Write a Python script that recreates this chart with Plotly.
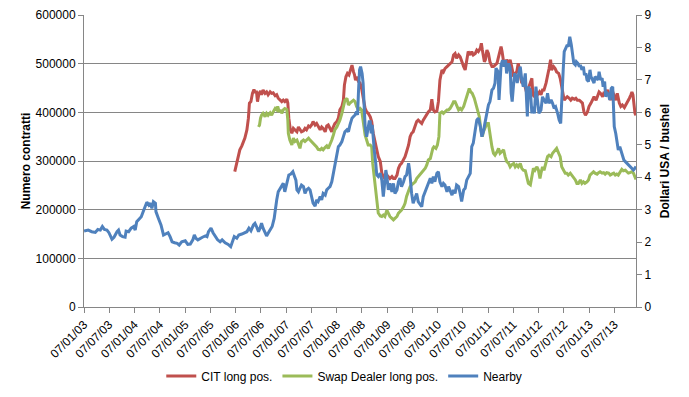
import datetime as dt
import plotly.graph_objects as go

# ---- data ----
# times are decimal years
nearby_t = [2003.018,2003.10,2003.17,2003.24,2003.29,2003.34,2003.38,2003.42,2003.47,2003.51,2003.57,2003.61,2003.67,2003.70,2003.73,2003.78,2003.83,2003.85,2003.90,2003.95,
            2004.00,2004.03,2004.06,2004.10,2004.15,2004.20,2004.26,2004.30,2004.33,2004.36,2004.39,2004.43,2004.44,2004.49,2004.54,2004.59,2004.64,2004.68,2004.72,2004.76,2004.81,2004.86,2004.90,2004.95,
            2005.02,2005.07,2005.12,2005.17,2005.20,2005.23,2005.27,2005.32,2005.36,2005.42,2005.45,2005.48,2005.53,2005.57,2005.61,2005.66,2005.71,2005.75,2005.81,2005.87,2005.92,2005.95,2005.99,
            2006.04,2006.08,2006.14,2006.19,2006.24,2006.28,2006.32,2006.37,2006.40,2006.43,2006.47,2006.50,2006.53,2006.56,2006.60,2006.63,2006.66,2006.70,2006.74,2006.78,2006.80,2006.83,2006.86,2006.90,2006.93,2006.96,2006.99,
            2007.03,2007.05,2007.07,2007.11,2007.15,2007.18,2007.21,2007.23,2007.26,2007.29,2007.32,2007.36,2007.39,2007.42,2007.46,2007.49,2007.52,2007.55,2007.59,2007.62,2007.65,2007.69,2007.72,2007.75,2007.79,2007.82,2007.85,2007.885,2007.92,2007.95,2007.98,
            2008.02,2008.05,2008.08,2008.12,2008.15,2008.18,2008.22,2008.25,2008.28,2008.32,2008.35,2008.38,2008.41,2008.43,2008.45,2008.47,2008.49,2008.52,2008.54,2008.56,2008.58,2008.61,2008.63,2008.66,2008.68,2008.70,2008.72,2008.74,2008.76,2008.79,2008.81,2008.84,2008.88,2008.91,2008.94,2008.96,2008.99,
            2009.01,2009.04,2009.07,2009.11,2009.14,2009.17,2009.21,2009.24,2009.27,2009.30,2009.34,2009.37,2009.40,2009.44,2009.46,2009.48,2009.50,2009.53,2009.57,2009.60,2009.63,2009.67,2009.70,2009.73,2009.77,2009.80,2009.83,2009.87,2009.90,2009.93,2009.96,
            2010.00,2010.03,2010.06,2010.10,2010.13,2010.16,2010.20,2010.23,2010.26,2010.30,2010.33,2010.36,2010.39,2010.43,2010.46,2010.49,2010.53,2010.56,2010.59,2010.62,2010.66,2010.69,2010.72,2010.76,2010.79,2010.82,2010.86,2010.89,2010.92,2010.95,2010.99,
            2011.02,2011.05,2011.09,2011.12,2011.15,2011.17,2011.21,2011.23,2011.25,2011.27,2011.30,2011.33,2011.36,2011.38,2011.42,2011.45,2011.47,2011.49,2011.52,2011.54,2011.57,2011.59,2011.62,2011.65,2011.68,2011.71,2011.75,2011.77,2011.79,2011.81,2011.85,2011.88,2011.90,2011.93,2011.96,2011.99,
            2012.02,2012.06,2012.09,2012.12,2012.16,2012.19,2012.22,2012.26,2012.29,2012.32,2012.35,2012.39,2012.42,2012.45,2012.47,2012.50,2012.52,2012.55,2012.58,2012.60,2012.63,2012.66,2012.68,2012.71,2012.74,2012.76,2012.79,2012.82,2012.84,2012.87,2012.90,2012.92,2012.95,2012.97,
            2013.00,2013.03,2013.05,2013.08,2013.11,2013.13,2013.16,2013.19,2013.21,2013.24,2013.27,2013.29,2013.32,2013.34,2013.37,2013.40,2013.42,2013.45,2013.48,2013.49,2013.51,2013.54,2013.57,2013.59,2013.62,2013.65,2013.67,2013.70,2013.73,2013.76,2013.79,2013.82,2013.86,2013.89,2013.92,2013.94]
nearby_price = [2.34,2.37,2.32,2.30,2.39,2.37,2.48,2.39,2.37,2.29,2.09,2.15,2.32,2.37,2.22,2.17,2.15,2.34,2.32,2.43,
                2.48,2.37,2.63,2.70,2.78,2.99,3.23,3.14,3.20,3.04,3.25,3.20,2.94,2.73,2.53,2.22,2.27,2.29,2.17,2.01,1.98,1.96,1.91,2.01,
                2.04,1.93,1.94,2.07,2.22,2.12,2.07,2.12,2.15,2.19,2.17,2.32,2.43,2.29,2.17,2.07,2.01,2.07,1.98,1.93,1.86,2.01,2.17,
                2.12,2.22,2.25,2.29,2.32,2.43,2.35,2.53,2.58,2.48,2.32,2.43,2.58,2.43,2.27,2.19,2.27,2.37,2.48,2.73,3.04,3.30,3.55,3.66,3.71,3.81,3.55,
                3.81,4.02,4.07,4.10,4.17,4.04,3.91,3.61,3.55,3.66,3.76,3.71,3.50,3.61,3.66,3.61,3.35,3.20,3.11,3.30,3.25,3.40,3.30,3.50,3.45,3.61,3.66,3.71,3.86,4.12,4.33,
                4.63,4.94,4.99,5.10,5.25,5.40,5.46,5.40,5.61,5.82,5.87,5.92,6.02,5.92,6.69,7.31,7.41,7.20,6.90,6.28,5.56,5.25,5.40,5.71,5.71,5.35,5.61,5.15,4.84,4.43,4.07,4.02,4.12,3.91,3.40,3.71,4.22,
                4.02,3.61,3.81,3.55,3.81,3.50,3.61,3.86,3.97,3.71,3.86,4.02,4.07,4.43,4.22,3.81,3.50,3.20,3.35,3.50,3.25,3.14,3.09,3.40,3.55,3.71,3.81,3.97,3.81,4.02,3.86,
                4.12,4.17,3.86,3.71,3.81,3.76,3.55,3.71,3.61,3.45,3.61,3.50,3.76,3.71,3.50,3.25,3.61,3.66,3.91,4.02,4.12,4.94,5.05,5.46,5.76,5.82,5.56,5.25,5.40,5.66,5.97,
                6.23,6.33,6.69,6.74,6.90,7.36,7.25,6.38,7.00,7.46,7.61,7.41,7.61,7.20,7.51,7.36,6.59,6.33,6.90,7.20,7.10,6.90,7.20,7.41,7.00,6.79,7.20,6.38,5.87,6.79,6.69,5.97,6.17,5.97,6.79,6.38,
                5.97,6.07,6.48,6.38,6.28,6.59,6.28,6.38,6.28,6.12,6.17,5.97,5.76,5.66,6.48,7.31,7.87,7.97,8.08,8.02,8.33,8.08,7.82,7.51,7.46,7.56,7.51,7.41,7.46,7.31,7.41,7.15,7.20,7.00,
                6.95,7.31,7.10,7.00,6.90,7.10,7.05,7.00,7.25,7.00,7.05,6.79,6.95,6.48,6.59,6.54,6.38,6.74,6.79,6.28,5.56,5.35,5.05,4.84,4.94,4.79,4.63,4.53,4.48,4.43,4.38,4.33,4.28,4.22,4.28,4.33]

cit_t = [2006.00,2006.04,2006.07,2006.10,2006.14,2006.17,2006.20,2006.24,2006.27,2006.29,2006.32,2006.35,2006.38,2006.40,2006.43,2006.45,2006.48,2006.51,2006.53,2006.56,2006.60,2006.63,2006.66,2006.70,2006.73,2006.76,2006.80,2006.83,2006.86,2006.90,2006.93,2006.96,2006.99,
         2007.03,2007.05,2007.07,2007.10,2007.13,2007.16,2007.19,2007.23,2007.26,2007.29,2007.32,2007.36,2007.39,2007.42,2007.46,2007.49,2007.52,2007.55,2007.59,2007.62,2007.65,2007.69,2007.72,2007.75,2007.79,2007.82,2007.85,2007.885,2007.92,2007.95,2007.98,
         2008.02,2008.05,2008.08,2008.12,2008.15,2008.17,2008.20,2008.23,2008.26,2008.30,2008.32,2008.35,2008.37,2008.39,2008.41,2008.45,2008.48,2008.51,2008.54,2008.58,2008.61,2008.64,2008.68,2008.71,2008.74,2008.78,2008.81,2008.84,2008.88,2008.91,2008.94,2008.97,
         2009.01,2009.04,2009.07,2009.11,2009.14,2009.17,2009.21,2009.24,2009.27,2009.30,2009.34,2009.37,2009.40,2009.44,2009.47,2009.50,2009.53,2009.57,2009.60,2009.63,2009.67,2009.70,2009.73,2009.77,2009.80,2009.83,2009.87,2009.90,2009.93,2009.96,
         2010.00,2010.03,2010.06,2010.10,2010.13,2010.16,2010.20,2010.23,2010.26,2010.30,2010.33,2010.36,2010.39,2010.43,2010.46,2010.49,2010.53,2010.56,2010.59,2010.62,2010.66,2010.69,2010.72,2010.76,2010.79,2010.82,2010.86,2010.88,2010.90,2010.92,2010.94,2010.96,2010.99,
         2011.02,2011.05,2011.09,2011.12,2011.15,2011.19,2011.22,2011.25,2011.27,2011.29,2011.32,2011.35,2011.38,2011.42,2011.45,2011.48,2011.52,2011.55,2011.58,2011.61,2011.65,2011.68,2011.71,2011.75,2011.78,2011.81,2011.85,2011.88,2011.90,2011.93,2011.96,2011.99,
         2012.03,2012.06,2012.09,2012.12,2012.16,2012.19,2012.22,2012.25,2012.27,2012.31,2012.34,2012.37,2012.41,2012.44,2012.47,2012.49,2012.52,2012.55,2012.58,2012.62,2012.65,2012.68,2012.72,2012.75,2012.78,2012.82,2012.85,2012.88,2012.91,2012.94,2012.98,
         2013.01,2013.05,2013.08,2013.11,2013.15,2013.18,2013.21,2013.24,2013.28,2013.31,2013.34,2013.38,2013.41,2013.44,2013.48,2013.51,2013.54,2013.57,2013.61,2013.64,2013.67,2013.71,2013.74,2013.77,2013.81,2013.84,2013.86,2013.88,2013.90,2013.92,2013.94]
cit_long = [278000,295000,309000,323000,331000,340000,347000,364000,388000,419000,422000,439000,447000,442000,442000,422000,439000,444000,436000,446000,439000,442000,436000,442000,439000,440000,434000,436000,429000,425000,422000,425000,422000,
            427000,419000,388000,364000,357000,367000,364000,360000,370000,364000,360000,362000,367000,364000,372000,370000,374000,381000,374000,377000,370000,364000,370000,367000,360000,372000,374000,367000,360000,370000,377000,
            381000,388000,405000,412000,425000,456000,473000,480000,477000,490000,497000,483000,477000,466000,473000,463000,460000,449000,432000,408000,401000,398000,391000,381000,357000,336000,323000,309000,299000,275000,268000,264000,
            271000,268000,264000,268000,264000,264000,271000,285000,292000,295000,302000,309000,319000,333000,350000,357000,360000,370000,381000,384000,381000,377000,384000,391000,398000,401000,405000,427000,405000,401000,
            403000,422000,466000,487000,483000,490000,494000,497000,501000,504000,518000,521000,511000,518000,514000,504000,494000,487000,511000,525000,518000,525000,518000,521000,528000,525000,532000,542000,528000,518000,504000,508000,528000,
            521000,504000,494000,494000,497000,501000,514000,532000,535000,525000,504000,501000,508000,501000,508000,494000,473000,480000,483000,501000,473000,460000,466000,450000,439000,449000,463000,470000,436000,432000,442000,436000,
            442000,436000,446000,446000,460000,473000,490000,508000,487000,494000,490000,483000,480000,470000,453000,436000,425000,429000,432000,429000,425000,429000,427000,429000,425000,425000,422000,419000,401000,394000,401000,
            412000,419000,425000,432000,425000,432000,442000,439000,432000,442000,436000,446000,436000,425000,442000,432000,425000,439000,419000,412000,415000,410000,415000,422000,429000,436000,442000,436000,412000,398000,394000]

swap_t = [2006.47,2006.49,2006.51,2006.53,2006.56,2006.60,2006.63,2006.66,2006.70,2006.73,2006.76,2006.80,2006.83,2006.85,2006.88,2006.91,2006.93,2006.96,2006.99,
          2007.03,2007.05,2007.06,2007.09,2007.13,2007.16,2007.19,2007.23,2007.26,2007.29,2007.32,2007.36,2007.39,2007.42,2007.46,2007.49,2007.52,2007.55,2007.59,2007.62,2007.65,2007.69,2007.72,2007.75,2007.79,2007.82,2007.85,2007.885,2007.92,2007.95,2007.98,
          2008.02,2008.05,2008.08,2008.12,2008.15,2008.18,2008.22,2008.25,2008.28,2008.32,2008.35,2008.38,2008.41,2008.45,2008.48,2008.51,2008.54,2008.58,2008.61,2008.64,2008.68,2008.71,2008.73,2008.76,2008.78,2008.81,2008.84,2008.88,2008.91,2008.94,2008.97,
          2009.01,2009.04,2009.07,2009.11,2009.14,2009.17,2009.21,2009.24,2009.27,2009.30,2009.34,2009.37,2009.40,2009.44,2009.47,2009.50,2009.53,2009.57,2009.60,2009.63,2009.67,2009.70,2009.73,2009.77,2009.80,2009.83,2009.87,2009.89,2009.92,2009.94,2009.98,
          2010.01,2010.04,2010.06,2010.10,2010.13,2010.16,2010.20,2010.23,2010.26,2010.30,2010.33,2010.36,2010.39,2010.43,2010.46,2010.49,2010.53,2010.56,2010.59,2010.62,2010.64,2010.67,2010.70,2010.74,2010.77,2010.80,2010.84,2010.87,2010.90,2010.92,2010.95,2010.99,
          2011.02,2011.05,2011.09,2011.12,2011.15,2011.19,2011.22,2011.25,2011.29,2011.32,2011.35,2011.38,2011.42,2011.45,2011.48,2011.52,2011.55,2011.58,2011.61,2011.65,2011.68,2011.71,2011.75,2011.78,2011.81,2011.85,2011.88,2011.91,2011.94,2011.98,
          2012.01,2012.04,2012.06,2012.09,2012.12,2012.16,2012.19,2012.22,2012.26,2012.29,2012.32,2012.35,2012.37,2012.41,2012.44,2012.47,2012.50,2012.54,2012.57,2012.60,2012.64,2012.67,2012.70,2012.74,2012.77,2012.80,2012.84,2012.87,2012.90,2012.93,2012.97,
          2013.00,2013.03,2013.07,2013.10,2013.13,2013.17,2013.20,2013.23,2013.27,2013.30,2013.33,2013.36,2013.40,2013.43,2013.46,2013.50,2013.53,2013.56,2013.59,2013.63,2013.66,2013.69,2013.73,2013.76,2013.79,2013.82,2013.86,2013.89,2013.92,2013.94]
swap_long = [370000,374000,388000,394000,398000,391000,398000,394000,399000,394000,401000,408000,405000,412000,401000,405000,398000,405000,408000,
             406000,384000,357000,343000,333000,347000,340000,343000,333000,326000,340000,343000,340000,343000,347000,343000,340000,336000,333000,329000,324000,323000,326000,323000,328000,331000,326000,333000,343000,353000,364000,
             370000,377000,384000,398000,415000,425000,429000,415000,419000,422000,425000,422000,412000,405000,408000,405000,381000,353000,343000,333000,333000,329000,295000,268000,240000,213000,193000,187000,186000,189000,186000,
             199000,193000,186000,182000,179000,182000,186000,193000,196000,199000,206000,213000,227000,240000,247000,251000,254000,257000,264000,268000,271000,275000,281000,285000,292000,302000,305000,315000,326000,329000,326000,
             333000,350000,398000,401000,398000,401000,405000,405000,408000,415000,422000,422000,415000,405000,408000,405000,412000,422000,432000,447000,449000,442000,439000,429000,419000,408000,391000,364000,350000,360000,367000,377000,
             377000,353000,329000,316000,312000,319000,326000,316000,319000,323000,309000,299000,295000,288000,292000,295000,288000,292000,288000,295000,285000,281000,280000,268000,254000,251000,271000,285000,281000,288000,
             281000,264000,275000,288000,281000,295000,309000,312000,309000,316000,319000,323000,326000,316000,309000,288000,281000,275000,275000,271000,275000,271000,268000,261000,254000,254000,261000,254000,257000,254000,257000,
             261000,271000,275000,278000,275000,273000,276000,278000,275000,276000,273000,276000,275000,271000,273000,275000,271000,273000,271000,278000,283000,280000,281000,278000,275000,276000,278000,275000,268000,262000]

tick_dates = ["2003-01-07","2003-07-07","2004-01-07","2004-07-07","2005-01-07","2005-07-07","2006-01-07","2006-07-07",
              "2007-01-07","2007-07-07","2008-01-07","2008-07-07","2009-01-07","2009-07-07","2010-01-07","2010-07-07",
              "2011-01-07","2011-07-07","2012-01-07","2012-07-07","2013-01-07","2013-07-07"]
tick_labels = ["07/01/03","07/07/03","07/01/04","07/07/04","07/01/05","07/07/05","07/01/06","07/07/06",
               "07/01/07","07/07/07","07/01/08","07/07/08","07/01/09","07/07/09","07/01/10","07/07/10",
               "07/01/11","07/07/11","07/01/12","07/07/12","07/01/13","07/07/13"]


def to_dates(ts):
    base = dt.datetime(2003, 1, 1)
    return [base + dt.timedelta(days=(t - 2003) * 365.25) for t in ts]


FONT = "Arial, 'Liberation Sans', sans-serif"
GRID = "#868686"

fig = go.Figure()
fig.add_trace(go.Scatter(x=to_dates(cit_t), y=cit_long, name="CIT long pos.", mode="lines",
                         line=dict(color="#C0504D", width=3), yaxis="y"))
fig.add_trace(go.Scatter(x=to_dates(swap_t), y=swap_long, name="Swap Dealer long pos.", mode="lines",
                         line=dict(color="#9BBB59", width=3), yaxis="y"))
fig.add_trace(go.Scatter(x=to_dates(nearby_t), y=nearby_price, name="Nearby", mode="lines",
                         line=dict(color="#4F81BD", width=3), yaxis="y2"))

fig.update_layout(
    width=681, height=389,
    margin=dict(l=76, r=53, t=7, b=90, autoexpand=False),
    paper_bgcolor="white", plot_bgcolor="white",
    font=dict(family=FONT, size=12, color="#000000"),
    showlegend=True,
    legend=dict(orientation="h", x=0.14, y=-0.236, xanchor="left", yanchor="middle",
                font=dict(family=FONT, size=12, color="#000000"), bgcolor="rgba(0,0,0,0)"),
    xaxis=dict(type="date", range=["2003-01-07", "2013-12-10"], tickvals=tick_dates, ticktext=tick_labels,
               tickangle=-45, ticks="outside", ticklen=5, tickcolor=GRID, showline=True, linecolor=GRID,
               linewidth=1, showgrid=False, zeroline=False, tickfont=dict(family=FONT, size=12, color="#000000")),
    yaxis=dict(range=[0, 600000], dtick=100000, tickformat="d", showgrid=True, gridcolor=GRID, gridwidth=1,
               showline=True, linecolor=GRID, linewidth=1, ticks="outside", ticklen=5, tickcolor=GRID,
               zeroline=False, tickfont=dict(family=FONT, size=12, color="#000000"),
               title=dict(text="<b>Numero contratti</b>", standoff=2, font=dict(family=FONT, size=12, color="#000000"))),
    yaxis2=dict(range=[0, 9], dtick=1, overlaying="y", side="right", showgrid=False, showline=True,
                linecolor=GRID, linewidth=1, ticks="outside", ticklen=5, tickcolor=GRID, zeroline=False,
                tickfont=dict(family=FONT, size=12, color="#000000"),
                title=dict(text="<b>Dollari USA / bushel</b>", standoff=10, font=dict(family=FONT, size=12, color="#000000"))),
)

fig.write_html("out.html")
